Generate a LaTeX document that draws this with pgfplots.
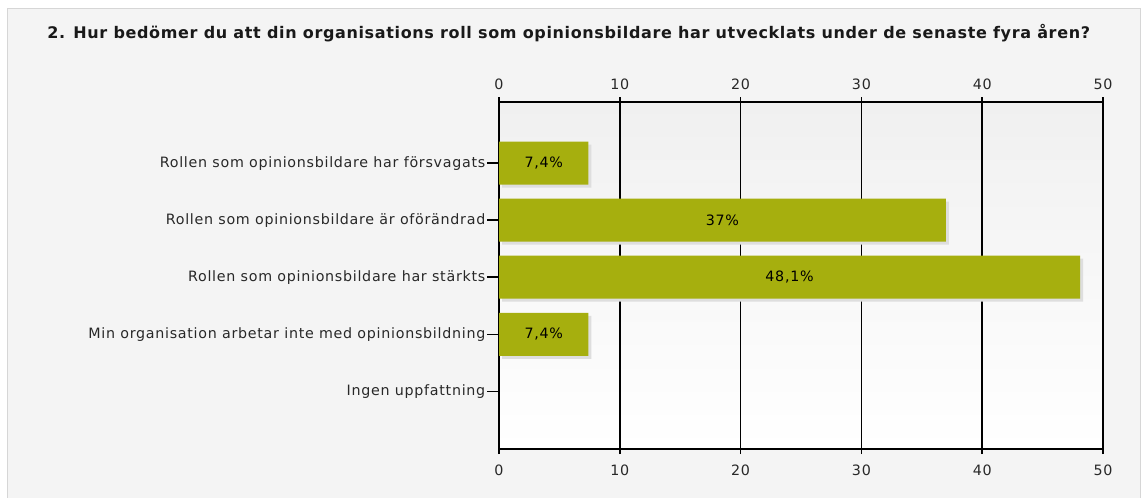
\documentclass[border=0pt]{standalone}
\usepackage{pgfplots}
\pgfplotsset{compat=1.18}
\usepackage{fontspec}
\setmainfont{DejaVu Sans}
\newfontfamily\catfont[LetterSpace=5]{DejaVu Sans}
\newfontfamily\titfont[LetterSpace=4]{DejaVu Sans}
\definecolor{barcol}{RGB}{166,175,14}
\definecolor{framebg}{RGB}{244,244,244}
\definecolor{frameln}{RGB}{214,214,214}
\definecolor{plottop}{RGB}{240,240,240}
\definecolor{txt}{RGB}{40,40,40}
\begin{document}
\begin{tikzpicture}
\useasboundingbox (0,0) rectangle (858pt,372.75pt);
\fill[white] (0,0) rectangle (858pt,372.75pt);
\filldraw[fill=framebg, draw=frameln, line width=0.75pt] (5.25pt,-2pt) rectangle (855pt,366pt);
\node[anchor=west, inner sep=0pt, font=\titfont\bfseries\fontsize{12}{13}\selectfont, text=black!90] at (35.25pt,348pt) {2. Hur bedömer du att din organisations roll som opinionsbildare har utvecklats under de senaste fyra åren?};
\begin{axis}[
 at={(374.25pt,36pt)}, anchor=south west,
 width=453pt, height=260.25pt, scale only axis,
 xmin=0, xmax=50, ymin=-1.07, ymax=5.01, y dir=reverse,
 xtick={0,10,...,50}, ytick={0,1,2,3,4},
 yticklabels={Rollen som opinionsbildare har försvagats, Rollen som opinionsbildare är oförändrad, Rollen som opinionsbildare har stärkts, Min organisation arbetar inte med opinionsbildning, Ingen uppfattning},
 xtick pos=both, ytick pos=left, tick align=outside,
 xtick style={/pgfplots/major tick length=3.75pt},
 ytick style={/pgfplots/major tick length=9pt},
 xmajorgrids, grid style={black, line width=1.1pt},
 axis line style={black, line width=1.1pt},
 tick style={black, line width=1.1pt},
 axis background/.style={top color=plottop, bottom color=white},
 /pgf/number format/assume math mode=true,
 ticklabel style={font=\catfont\fontsize{10.7}{12}\selectfont, text=txt},
 yticklabel style={xshift=-2.5pt},
 xticklabel style={yshift=-4pt},
 xbar, bar width=32.25pt,
]
\draw[black, line width=1.1pt] (rel axis cs:0,0) -- ++(-9pt,0);
\draw[black, line width=1.1pt] (rel axis cs:0,1) -- ++(-9pt,0);
\addplot[fill=barcol, draw=none,
  preaction={fill=black!13, transform canvas={xshift=2.25pt,yshift=-2.25pt}},
  nodes near coords, point meta=explicit symbolic,
  visualization depends on={rawx \as \rx},
  every node near coord/.append style={anchor=center, xshift={-4.53pt*\rx}, font=\catfont\fontsize{10.7}{12}\selectfont, text=black}]
  table[meta=lab] {
x y lab
7.4 0 {7,4\%}
37 1 {37\%}
48.1 2 {48,1\%}
7.4 3 {7,4\%}
};
\end{axis}
\begin{axis}[
 at={(374.25pt,36pt)}, anchor=south west,
 width=453pt, height=260.25pt, scale only axis,
 xmin=0, xmax=50, ymin=0, ymax=1,
 xtick={0,10,...,50}, ytick=\empty,
 xticklabel pos=upper,
 axis line style={draw=none}, major tick length=3.75pt, tick style={draw=none},
 /pgf/number format/assume math mode=true,
 ticklabel style={font=\catfont\fontsize{10.7}{12}\selectfont, text=txt},
 xticklabel style={yshift=6pt},
]
\end{axis}
\end{tikzpicture}
\end{document}
